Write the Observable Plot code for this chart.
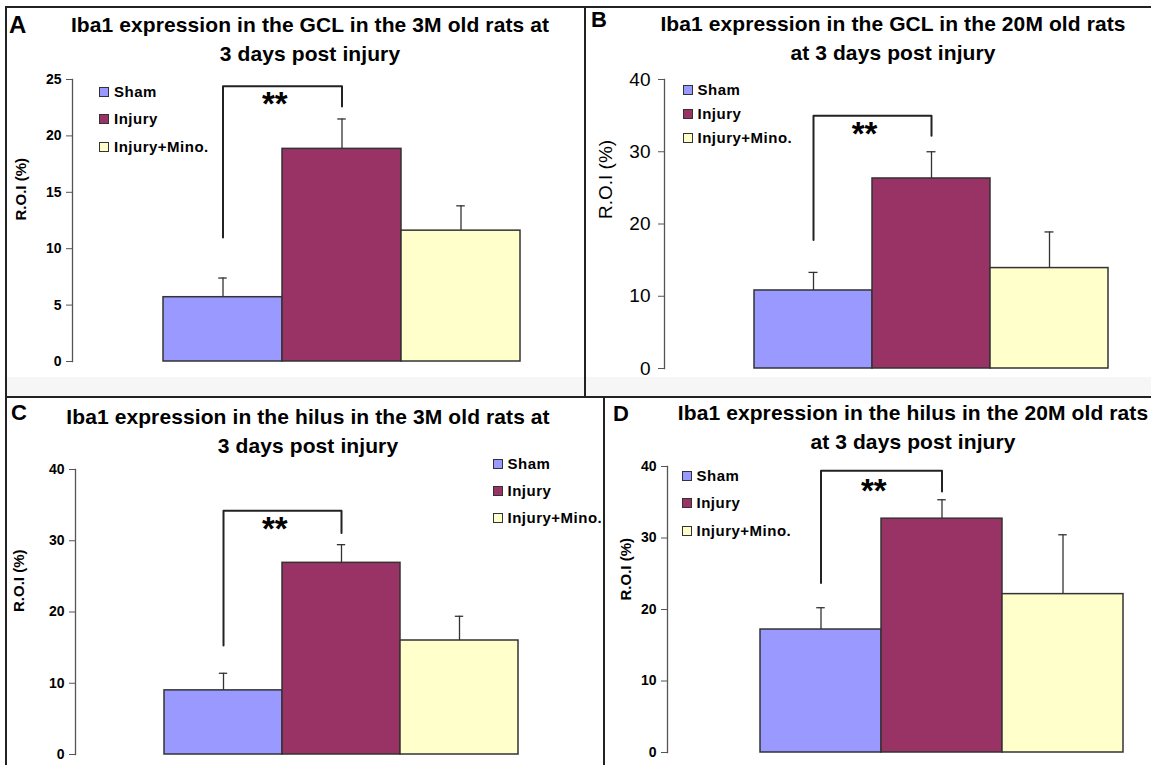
<!DOCTYPE html>
<html><head><meta charset="utf-8">
<script src="https://cdn.jsdelivr.net/npm/d3@7"></script>
<script src="https://cdn.jsdelivr.net/npm/@observablehq/plot@0.6"></script>
<style>
body{margin:0;background:#fff;}
#root{position:relative;width:1151px;height:765px;overflow:hidden;font-family:"Liberation Sans",Arial,sans-serif;background:#fff;color:#000;}
.rule{position:absolute;background:#222;}
.band{position:absolute;background:#f6f6f6;}
.title{position:absolute;font-weight:bold;font-size:21px;line-height:28px;text-align:center;white-space:nowrap;letter-spacing:0.1px;}
.letter{position:absolute;font-weight:bold;line-height:1;}
.leg{position:absolute;font-weight:bold;font-size:15px;line-height:18px;white-space:nowrap;display:flex;align-items:center;letter-spacing:0.5px;}
.sw{width:8px;height:8px;border:1px solid #333;margin-right:5px;}
.panel{position:absolute;}
</style></head><body><div id="root"></div>
<script>
// ---- data ----
const groups = ["Sham", "Injury", "Injury+Mino."];
const groupColors = ["#9999ff", "#993366", "#ffffcc"];

const meanA = [5.7, 18.85, 11.6];
const semA = [1.7, 2.65, 2.2];
const meanB = [10.8, 26.3, 13.9];
const semB = [2.5, 3.7, 5.0];
const meanC = [9.0, 26.9, 16.0];
const semC = [2.4, 2.55, 3.4];
const meanD = [17.2, 32.7, 22.15];
const semD = [3.05, 2.65, 8.3];

// significance bracket: [left foot, top, right foot], and star level
const bracketA = [11.0, 24.4, 22.6];
const bracketB = [17.8, 35.0, 32.2];
const bracketC = [15.3, 34.2, 31.1];
const bracketD = [23.7, 39.4, 36.5];
const starLevel = [23.3, 33.2, 32.4, 37.4];
const starText = "**";

const ticksA = [0, 5, 10, 15, 20, 25];
const ticksB = [0, 10, 20, 30, 40];
const ticksC = [0, 10, 20, 30, 40];
const ticksD = [0, 10, 20, 30, 40];

const titleA = ["Iba1 expression in the GCL in the 3M old rats at", "3 days post injury"];
const titleB = ["Iba1 expression in the GCL in the 20M old rats", "at 3 days post injury"];
const titleC = ["Iba1 expression in the hilus in the 3M old rats at", "3 days post injury"];
const titleD = ["Iba1 expression in the hilus in the 20M old rats", "at 3 days post injury"];
const letters = ["A", "B", "C", "D"];
const yLabel = "R.O.I (%)";

// ---- layout ----
const FONT = '"Liberation Sans", Arial, sans-serif';
const root = document.getElementById("root");

function el(cls, styles, text) {
  const d = document.createElement("div");
  d.className = cls;
  Object.assign(d.style, styles);
  if (text != null) d.textContent = text;
  root.appendChild(d);
  return d;
}

// frame lines and light bottom band
el("band", {left: "7px", top: "377px", width: "1144px", height: "19px"});
el("rule", {left: "5px", top: "6px", width: "1146px", height: "2px"});
el("rule", {left: "5px", top: "6px", width: "2px", height: "759px"});
el("rule", {left: "5px", top: "396px", width: "1146px", height: "2px"});
el("rule", {left: "584px", top: "6px", width: "2px", height: "391px"});
el("rule", {left: "603px", top: "397px", width: "2px", height: "368px"});

const panels = [
  {mean: meanA, sem: semA, bracket: bracketA, star: starLevel[0], ticks: ticksA, max: 25, title: titleA, letter: letters[0],
   left: 0, top: 0, width: 585, height: 397, mt: 79, mb: 36, ml: 72, mr: 0, insetL: 90.5, insetR: 64,
   tickFont: 14, tickWeight: "bold", tickPad: 5, labFont: 15, labWeight: "bold", labOffset: 51, labDy: 0,
   titleCx: 310, titleY: 25, letterX: 9, letterTop: 13, letterSize: 24,
   legX: 99, legY: [92, 119, 147]},
  {mean: meanB, sem: semB, bracket: bracketB, star: starLevel[1], ticks: ticksB, max: 40, title: titleB, letter: letters[1],
   left: 585, top: 0, width: 566, height: 397, mt: 79, mb: 29, ml: 79, mr: 0, insetL: 90, insetR: 43,
   tickFont: 19, tickWeight: "normal", tickPad: 8, labFont: 19, labWeight: "normal", labOffset: 59, labDy: -5,
   titleCx: 893, titleY: 24, letterX: 591, letterTop: 9, letterSize: 22,
   legX: 682.5, legY: [90, 114, 138]},
  {mean: meanC, sem: semC, bracket: bracketC, star: starLevel[2], ticks: ticksC, max: 40, title: titleC, letter: letters[2],
   left: 0, top: 397, width: 604, height: 368, mt: 72, mb: 11, ml: 75, mr: 0, insetL: 87.6, insetR: 85.4,
   tickFont: 14, tickWeight: "bold", tickPad: 5, labFont: 15, labWeight: "bold", labOffset: 56, labDy: 0,
   titleCx: 308, titleY: 417, letterX: 11, letterTop: 402, letterSize: 22,
   legX: 492.5, legY: [464, 491, 518]},
  {mean: meanD, sem: semD, bracket: bracketD, star: starLevel[3], ticks: ticksD, max: 40, title: titleD, letter: letters[3],
   left: 604, top: 397, width: 547, height: 368, mt: 69, mb: 13, ml: 63, mr: 0, insetL: 92, insetR: 27.5,
   tickFont: 14, tickWeight: "bold", tickPad: 5, labFont: 15, labWeight: "bold", labOffset: 41, labDy: -9,
   titleCx: 913, titleY: 413, letterX: 613, letterTop: 403, letterSize: 22,
   legX: 681.5, legY: [476, 503, 531]}
];

for (const p of panels) {
  const data = groups.map((g, i) => ({group: g, mean: p.mean[i], top: p.mean[i] + p.sem[i]}));
  const br = [
    {group: groups[0], v: p.bracket[0]},
    {group: groups[0], v: p.bracket[1]},
    {group: groups[1], v: p.bracket[1]},
    {group: groups[1], v: p.bracket[2]}
  ];
  const bw = (p.width - p.ml - p.mr - p.insetL - p.insetR) / 3;
  const svg = Plot.plot({
    width: p.width, height: p.height,
    marginTop: p.mt, marginBottom: p.mb, marginLeft: p.ml, marginRight: p.mr,
    style: {background: "transparent", fontFamily: FONT, overflow: "visible"},
    x: {type: "band", domain: groups, padding: 0, insetLeft: p.insetL, insetRight: p.insetR, axis: null},
    y: {domain: [0, p.max]},
    color: {domain: groups, range: groupColors},
    marks: [
      Plot.frame({anchor: "left", stroke: "#555", strokeWidth: 1.3}),
      Plot.axisY({ticks: p.ticks, tickSize: 6, tickPadding: p.tickPad, stroke: "#555", fill: "#000",
        fontSize: p.tickFont, fontWeight: p.tickWeight, label: null}),
      Plot.text([yLabel], {frameAnchor: "left", text: d => d, rotate: -90, dx: -p.labOffset, dy: p.labDy,
        fontSize: p.labFont, fontWeight: p.labWeight, fill: "#000", lineAnchor: "middle"}),
      Plot.ruleX(data, {x: "group", y1: "mean", y2: "top", stroke: "#333", strokeWidth: 1.3}),
      Plot.tickY(data, {x: "group", y: "top", inset: (bw - 9) / 2, stroke: "#333", strokeWidth: 1.3}),
      Plot.barY(data, {x: "group", y: "mean", fill: "group", stroke: "#333", strokeWidth: 1.5}),
      Plot.line(br, {x: "group", y: "v", stroke: "#222", strokeWidth: 2}),
      Plot.text([{group: groups[0], v: p.star}], {x: "group", y: "v", text: () => starText, dx: bw / 2 - 8, dy: 6,
        fontSize: 33, fontWeight: "bold", fill: "#000", lineAnchor: "middle"})
    ]
  });
  const wrap = el("panel", {left: p.left + "px", top: p.top + "px", width: p.width + "px", height: p.height + "px"});
  wrap.appendChild(svg);

  // title
  p.title.forEach((t, i) => {
    el("title", {left: (p.titleCx - 300) + "px", width: "600px", top: (p.titleY - 14 + i * 28.5) + "px"}, t);
  });
  // panel letter
  el("letter", {left: p.letterX + "px", top: p.letterTop + "px", fontSize: p.letterSize + "px"}, p.letter);
  // legend
  groups.forEach((g, i) => {
    const row = el("leg", {left: p.legX + "px", top: (p.legY[i] - 9) + "px"});
    const sw = document.createElement("div");
    sw.className = "sw";
    sw.style.background = groupColors[i];
    row.appendChild(sw);
    const s = document.createElement("span");
    s.textContent = g;
    row.appendChild(s);
  });
}
</script></body></html>
